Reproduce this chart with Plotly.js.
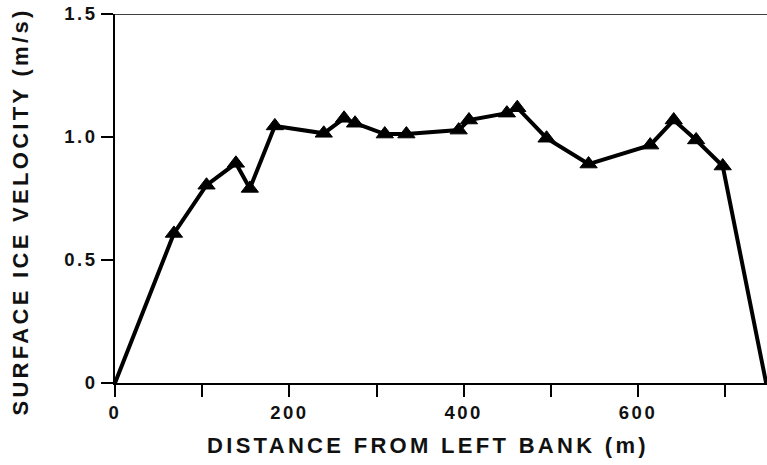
<!DOCTYPE html>
<html>
<head>
<meta charset="utf-8">
<script src="https://cdn.plot.ly/plotly-3.0.1.min.js"></script>
<style>
html,body{margin:0;padding:0;background:#fff;}
#chart{width:767px;height:465px;}
.xtitle,.ytitle{letter-spacing:3.3px;}
.xtick text,.ytick text{letter-spacing:2.5px;}
.g-ytitle{transform:translate(0px,13px);}
.g-xtitle{transform:translate(-13px,0px);}
</style>
</head>
<body>
<div id="chart"></div>
<script>
// Distance from left bank (m)
const distance = [0, 67.6, 105, 138.7, 154.7, 183.4, 239.5, 262.8, 275.4, 309.5, 334.3, 394.3, 406.1, 449.6, 461.5, 495.1, 543.3, 614, 641, 666.7, 697.2, 747];
// Surface ice velocity (m/s)
const velocity = [0, 0.608, 0.804, 0.893, 0.791, 1.045, 1.015, 1.076, 1.056, 1.012, 1.012, 1.028, 1.069, 1.097, 1.119, 0.995, 0.890, 0.967, 1.069, 0.988, 0.882, 0];
const xTickVals = [0, 100, 200, 300, 400, 500, 600, 700];
const xTickText = ['0', '', '200', '', '400', '', '600', ''];
const yTickVals = [0, 0.5, 1.0, 1.5];
const yTickText = ['0', '0.5', '1.0', '1.5'];
const xTitle = 'DISTANCE FROM LEFT BANK (m)';
const yTitle = 'SURFACE ICE VELOCITY (m/s)';

const markerSizes = distance.map((d, i) => (i === 0 || i === distance.length - 1) ? 0 : 15);

const fam = 'Liberation Sans, Arial, Helvetica, sans-serif';

Plotly.newPlot('chart', [{
  x: distance,
  y: velocity,
  type: 'scatter',
  mode: 'lines+markers',
  line: {color: '#000', width: 4},
  marker: {symbol: 'triangle-up', size: markerSizes, color: '#000', opacity: 1, line: {color: '#000', width: 1}},
  cliponaxis: false,
  hoverinfo: 'x+y'
}], {
  width: 767,
  height: 465,
  margin: {l: 115, r: 0, t: 14, b: 82},
  paper_bgcolor: '#fff',
  plot_bgcolor: '#fff',
  showlegend: false,
  font: {family: fam, color: '#111', weight: 'bold'},
  xaxis: {
    range: [0, 748],
    tickvals: xTickVals,
    ticktext: xTickText,
    ticks: 'outside',
    ticklen: 12,
    tickwidth: 1.5,
    tickcolor: '#000',
    showline: true,
    linecolor: '#000',
    linewidth: 1.5,
    showgrid: false,
    zeroline: false,
    tickfont: {family: fam, size: 18.5, color: '#111', weight: 'bold'},
    title: {text: xTitle, font: {family: fam, size: 22, color: '#111', weight: 'bold'}, standoff: 16}
  },
  yaxis: {
    range: [0, 1.5],
    tickvals: yTickVals,
    ticktext: yTickText,
    ticks: 'outside',
    ticklen: 12,
    tickwidth: 1.5,
    tickcolor: '#000',
    showline: true,
    linecolor: '#000',
    linewidth: 1.5,
    showgrid: false,
    zeroline: false,
    tickfont: {family: fam, size: 18.5, color: '#111', weight: 'bold'},
    title: {text: yTitle, font: {family: fam, size: 22, color: '#111', weight: 'bold'}, standoff: 30}
  },
  shapes: [{
    type: 'line', xref: 'paper', yref: 'y', x0: 0, x1: 1, y0: 1.5, y1: 1.5,
    line: {color: '#000', width: 1.5}
  }]
}, {displayModeBar: false});
</script>
</body>
</html>
